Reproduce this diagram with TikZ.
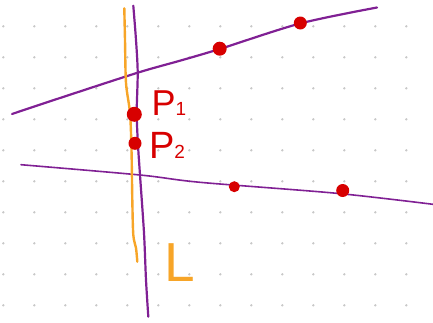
\documentclass[tikz,border=0pt]{standalone}
\usepackage{fontspec}
\setsansfont{Liberation Sans}
\usepackage{xcolor}
\usepackage{tikz}

\definecolor{penpurple}{RGB}{128,32,148}
\definecolor{penorange}{RGB}{247,165,40}
\definecolor{penred}{RGB}{215,0,0}
\definecolor{griddot}{RGB}{200,200,200}

\begin{document}
\begin{tikzpicture}[x=1pt,y=-1pt,line cap=round,line join=round,
    pendot/.style={circle,fill=penred,inner sep=0pt,minimum size=#1},
    penlabel/.style={font=\sffamily,inner sep=0pt}]
  \useasboundingbox (0,0) rectangle (433,322);

  % Dotted paper
  \foreach \i in {0,...,13}
    \foreach \j in {0,...,9}
      \fill[griddot] (3.3+31*\i,26.3+31*\j) circle (1.3pt);

  % Points on the lines
  \coordinate (q1) at (219.7,48.7);
  \coordinate (q2) at (300.3,23);
  \coordinate (p1) at (134.3,114.3);
  \coordinate (p2) at (135,143.3);
  \coordinate (r1) at (234.3,186.7);
  \coordinate (r2) at (342.7,190.5);

  % Upper line
  \draw[penpurple,line width=2.2pt] plot[smooth] coordinates
    {(12,114) (60,98) (137.7,72.7) (180,60.7) (219.7,49) (300,23.5) (377,7.5)};
  % Lower line
  \draw[penpurple,line width=1.6pt] plot[smooth] coordinates
    {(21,164.7) (140,175) (200,182.3) (336.7,193.3) (433,204.3)};

  % Orange line L
  \draw[penorange,line width=2.4pt] plot[smooth] coordinates
    {(124.3,8.3) (125,40) (126,83) (130,113) (131.5,150) (132.3,200)
     (133.3,235) (136,248) (137.3,261.7)};
  % Vertical line
  \draw[penpurple,line width=2.2pt] plot[smooth] coordinates
    {(133.3,5.7) (136,40) (137.7,72.7) (136.7,113) (138,145) (140,175)
     (144,233) (146,280) (148.3,316.7)};

  % Red points
  \node[pendot=14pt] (dq1) at (q1) {};
  \node[pendot=13pt] (dq2) at (q2) {};
  \node[pendot=15pt] (dp1) at (p1) {};
  \node[pendot=13pt] (dp2) at (p2) {};
  \node[pendot=11pt] (dr1) at (r1) {};
  \node[pendot=13pt] (dr2) at (r2) {};

  % Labels
  \node[penlabel,text=penred] (lp1) at (169,103.5)
    {\fontsize{36}{36}\selectfont P\fontsize{19}{19}\selectfont 1};
  \node[penlabel,text=penred] (lp2) at (167,145)
    {\fontsize{38}{38}\selectfont P\fontsize{19}{19}\selectfont 2};
  \node[penlabel,text=penorange] (lL) at (179.5,262.5)
    {\fontsize{55}{55}\selectfont L};
\end{tikzpicture}
\end{document}
